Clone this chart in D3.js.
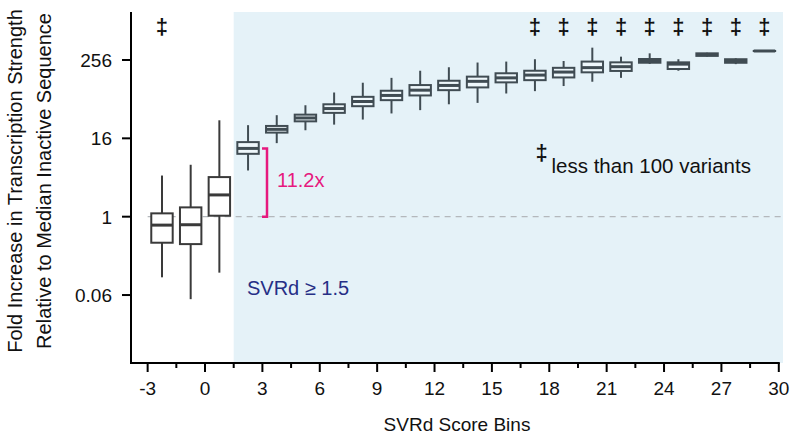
<!DOCTYPE html>
<html>
<head>
<meta charset="utf-8">
<script src="https://cdn.jsdelivr.net/npm/d3@7"></script>
<style>
  body { margin: 0; background: #fff; }
  svg text { font-family: "Liberation Sans", Arial, sans-serif; }
</style>
</head>
<body>
<svg id="chart" width="790" height="437"></svg>
<script>
// Bins (centre of each 1.5-wide SVRd bin)
const binCenters = [-2.25, -0.75, 0.75, 2.25, 3.75, 5.25, 6.75, 8.25, 9.75, 11.25, 12.75,
                    14.25, 15.75, 17.25, 18.75, 20.25, 21.75, 23.25, 24.75, 26.25, 27.75, 29.25];
// Box statistics (fold increase)
const whiskerLow  = [0.117, 0.054, 0.138, 5.13, 13.5, 21.3, 26.0, 31.1, 38.6, 43.4, 53.4,
                     56.1, 78.2, 85.0, 101.8, 118.6, 136, 222.9, 175, 288, 221, 352];
const q1          = [0.398, 0.379, 1.035, 9.25, 19.6, 29.2, 39.4, 49.9, 61.8, 73.0, 88.0,
                     97.0, 116, 125.4, 138, 165.4, 173.7, 232.3, 186, 296, 232, 352];
const medians     = [0.742, 0.752, 2.16, 11.2, 22.0, 32.9, 45.9, 58.9, 73.0, 88.0, 104,
                     120.3, 136, 150, 167, 195.4, 202, 247.3, 221, 309, 247, 352];
const q3          = [1.125, 1.39, 4.06, 14.0, 24.8, 37.0, 53.4, 69.5, 86.2, 105.4, 122.8,
                     142, 160, 175, 194, 242, 235.5, 265, 235.5, 324, 263, 352];
const whiskerHigh = [4.29, 6.28, 30.3, 25.5, 36.3, 51.6, 81.0, 114.5, 136, 175, 198,
                     234, 242, 263, 247, 396, 288, 324, 263, 331, 272, 352];
// Bins with fewer than 100 variants
const fewVariants = [-2.25, 17.25, 18.75, 20.25, 21.75, 23.25, 24.75, 26.25, 27.75, 29.25];

const xTicks = [-3, -1.5, 0, 1.5, 3, 4.5, 6, 7.5, 9, 10.5, 12, 13.5, 15, 16.5, 18, 19.5,
                21, 22.5, 24, 25.5, 27, 28.5, 30];
const xLabeled = [-3, 0, 3, 6, 9, 12, 15, 18, 21, 24, 27, 30];
const yTicks = [256, 16, 1, 0.0625];
const yTickLabels = ["256", "16", "1", "0.06"];
const threshold = 1.5;
const foldAnnot = 11.2;

const svg = d3.select("#chart");

// Echelles
const x = d3.scaleLinear().domain([-3.87, 30.22]).range([131, 783]);
const y = d3.scaleLog().base(2).domain([Math.pow(2, -7.47), Math.pow(2, 10.45)]).range([363, 12]);

// Zone ombrée (SVRd >= 1.5)
svg.append("rect")
    .attr("x", x(threshold))
    .attr("y", y.range()[1])
    .attr("width", x.range()[1] - x(threshold))
    .attr("height", y.range()[0] - y.range()[1])
    .attr("fill", "#e5f2f8");

// Ligne pointillée à 1
svg.append("line")
    .attr("x1", x(-3)).attr("x2", x.range()[1])
    .attr("y1", y(1)).attr("y2", y(1))
    .attr("stroke", "#b4b8bc")
    .attr("stroke-width", 1.3)
    .attr("stroke-dasharray", "6,5");

// Boîtes
const boxes = binCenters.map((c, i) => ({
    c, lo: whiskerLow[i], q1: q1[i], med: medians[i], q3: q3[i], hi: whiskerHigh[i]
}));
const halfW = 0.56;
const g = svg.append("g");
boxes.forEach(d => {
    const inside = d.c > threshold;
    const col = inside ? "#404c53" : "#3a3a3a";
    g.append("line")
        .attr("x1", x(d.c)).attr("x2", x(d.c))
        .attr("y1", y(d.hi)).attr("y2", y(d.lo))
        .attr("stroke", col).attr("stroke-width", 2);
    g.append("rect")
        .attr("x", x(d.c - halfW))
        .attr("y", y(d.q3))
        .attr("width", x(d.c + halfW) - x(d.c - halfW))
        .attr("height", Math.max(0.01, y(d.q1) - y(d.q3)))
        .attr("fill", inside ? "#eef7fb" : "#fff")
        .attr("stroke", col).attr("stroke-width", 2);
    g.append("line")
        .attr("x1", x(d.c - halfW)).attr("x2", x(d.c + halfW))
        .attr("y1", y(d.med)).attr("y2", y(d.med))
        .attr("stroke", col).attr("stroke-width", 3);
});

// Symboles ‡
svg.selectAll("text.dag").data(fewVariants).enter()
    .append("text")
    .attr("class", "dag")
    .attr("x", d => x(d))
    .attr("y", 34)
    .attr("text-anchor", "middle")
    .attr("font-size", 22)
    .attr("font-weight", "bold")
    .attr("fill", "#111")
    .text("‡");

// Crochet 11.2x
const bx = 267;
svg.append("path")
    .attr("d", `M${bx - 5},${y(foldAnnot)} H${bx} V${y(1)} H${bx - 5}`)
    .attr("fill", "none")
    .attr("stroke", "#e6197e")
    .attr("stroke-width", 2.5);
svg.append("text")
    .attr("x", 277).attr("y", 187)
    .attr("font-size", 20)
    .attr("fill", "#e6197e")
    .text(foldAnnot + "x");

svg.append("text")
    .attr("x", 247).attr("y", 295)
    .attr("font-size", 20)
    .attr("fill", "#262f86")
    .text("SVRd ≥ " + threshold);

// Légende
svg.append("text")
    .attr("x", 541.5).attr("y", 160)
    .attr("text-anchor", "middle")
    .attr("font-size", 22)
    .attr("font-weight", "bold")
    .attr("fill", "#111")
    .text("‡");
svg.append("text")
    .attr("x", 551.5).attr("y", 173)
    .attr("font-size", 20.5)
    .attr("fill", "#111")
    .text("less than 100 variants");

// Axe X
const xAxis = svg.append("g").attr("transform", `translate(0,${y.range()[0]})`);
xAxis.append("line")
    .attr("x1", x.range()[0] - 1).attr("x2", x(30) + 1)
    .attr("stroke", "#000").attr("stroke-width", 2);
xAxis.selectAll("line.tick").data(xTicks).enter()
    .append("line")
    .attr("class", "tick")
    .attr("x1", d => x(d)).attr("x2", d => x(d))
    .attr("y1", 0).attr("y2", d => xLabeled.includes(d) ? 9 : 5)
    .attr("stroke", "#000").attr("stroke-width", 2);
xAxis.selectAll("text").data(xLabeled).enter()
    .append("text")
    .attr("x", d => x(d))
    .attr("y", 32)
    .attr("text-anchor", "middle")
    .attr("font-size", 19)
    .attr("fill", "#111")
    .text(d => d);

// Axe Y
const yAxis = svg.append("g").attr("transform", `translate(${x.range()[0]},0)`);
yAxis.append("line")
    .attr("y1", y.range()[1]).attr("y2", y.range()[0] + 1)
    .attr("stroke", "#000").attr("stroke-width", 2);
yAxis.selectAll("line.tick").data(yTicks).enter()
    .append("line")
    .attr("class", "tick")
    .attr("x1", -9).attr("x2", 0)
    .attr("y1", d => y(d)).attr("y2", d => y(d))
    .attr("stroke", "#000").attr("stroke-width", 2);
yAxis.selectAll("text").data(yTicks).enter()
    .append("text")
    .attr("x", -19)
    .attr("y", d => y(d) + 7)
    .attr("text-anchor", "end")
    .attr("font-size", 19)
    .attr("fill", "#111")
    .text((d, i) => yTickLabels[i]);

// Titres
svg.append("text")
    .attr("x", 457).attr("y", 431)
    .attr("text-anchor", "middle")
    .attr("font-size", 19)
    .attr("fill", "#111")
    .text("SVRd Score Bins");
const yt = svg.append("text")
    .attr("transform", "translate(0,181) rotate(-90)")
    .attr("text-anchor", "middle")
    .attr("font-size", 20)
    .attr("fill", "#111");
yt.append("tspan").attr("x", 0).attr("y", 22).text("Fold Increase in Transcription Strength");
yt.append("tspan").attr("x", 0).attr("y", 51).text("Relative to Median Inactive Sequence");
</script>
</body>
</html>
